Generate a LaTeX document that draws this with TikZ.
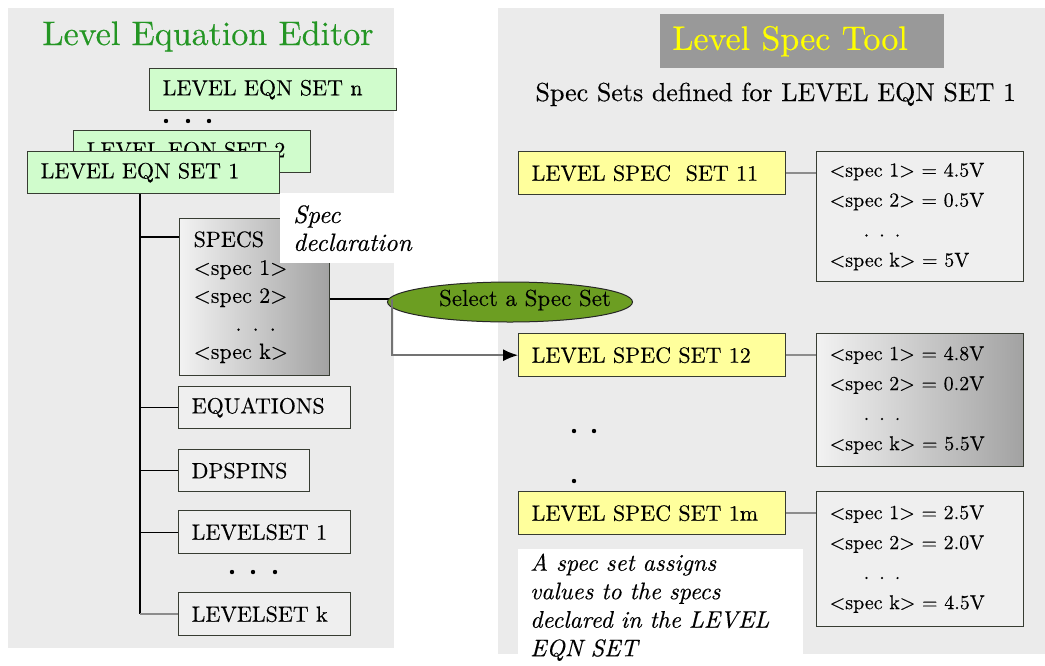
\documentclass[tikz,border=0pt]{standalone}
\usepackage{fontspec}
\setmainfont{lmroman10-regular.otf}[ItalicFont=lmroman10-italic.otf, BoldFont=lmroman10-bold.otf, FakeBold=0.3]
\usetikzlibrary{shapes.geometric,arrows.meta,calc}

\definecolor{panelgray}{RGB}{235,235,235}
\definecolor{eqngreen}{RGB}{208,252,204}
\definecolor{titlegreen}{RGB}{36,150,36}
\definecolor{specyellow}{RGB}{255,255,156}
\definecolor{toolgray}{RGB}{153,153,153}
\definecolor{tooltext}{RGB}{255,255,0}
\definecolor{selgreen}{RGB}{108,158,34}
\definecolor{boxline}{RGB}{55,60,50}
\definecolor{boxfill}{RGB}{239,239,239}
\definecolor{linkgray}{RGB}{140,140,140}
\definecolor{shadelight}{RGB}{242,242,242}
\definecolor{shadedark}{RGB}{162,162,162}

\newcommand\fsz[2]{\fontsize{#1}{#2}\selectfont}

\tikzset{
  basebox/.style={draw=boxline, line width=1.4pt, anchor=north west,
    inner xsep=13pt, inner ysep=0pt, align=left, font=\fsz{22}{26}},
  eqnbox/.style={basebox, fill=eqngreen, minimum height=42pt},
  itembox/.style={basebox, fill=boxfill, minimum height=42pt},
  specbox/.style={basebox, fill=specyellow, minimum height=43pt, text width=241pt},
  valbox/.style={basebox, fill=boxfill, font=\fsz{20}{30}, text width=181pt},
  shadedbox/.style={left color=shadelight, right color=shadedark},
  treeline/.style={draw=black, line width=1.3pt},
  linkline/.style={draw=linkgray, line width=2pt},
  notebox/.style={fill=white, anchor=north west, align=left, inner xsep=12pt, inner ysep=0pt}
}

\begin{document}
\begin{tikzpicture}[x=1pt, y=-1pt]
\useasboundingbox (0,0) rectangle (1045,665);

% two panels
\fill[panelgray] (8,8) rectangle (394,648);
\fill[panelgray] (498,8) rectangle (1045,654);

% ---------------- left panel: equation editor ----------------
\node[anchor=base, font=\fsz{34}{40}, text=titlegreen] (edtitle) at (208,45) {Level Equation Editor};

\node[eqnbox, text width=221pt] (setn) at (149,68) {LEVEL EQN SET n};
\foreach \x in {166,188,209} \fill (\x,121) circle[radius=2.2pt];
\node[eqnbox, text width=211pt] (set2) at (73,130) {LEVEL EQN SET 2};
\node[eqnbox, text width=226pt] (set1) at (27,151) {LEVEL EQN SET 1};

\node[itembox, shadedbox, inner xsep=14pt, text width=122pt, minimum height=157pt, font=\fsz{22}{28}] (specs) at (179,218)
  {SPECS\\<spec 1>\\<spec 2>\\\hspace*{1.9em}. . .\\<spec k>};
\node[itembox, text width=146pt] (eq)  at (178,386) {EQUATIONS};
\node[itembox, text width=105pt] (dps) at (178,449) {DPSPINS};
\node[itembox, text width=146pt, minimum height=43pt] (ls1) at (178,510) {LEVELSET 1};
\foreach \x in {232,253,275} \fill (\x,572) circle[radius=2.2pt];
\node[itembox, text width=146pt, minimum height=43pt] (lsk) at (178,592) {LEVELSET k};

% tree of the equation set
\coordinate (trunk) at ($(set1.south west)+(113,0)$);
\coordinate (specin) at ($(specs.north west)+(0,19)$);
\draw[treeline] (trunk) -- (trunk |- lsk.west);
\draw[treeline] (trunk |- specin) -- (specin);
\draw[treeline] (trunk |- eq.west) -- (eq.west);
\draw[treeline] (trunk |- dps.west) -- (dps.west);
\draw[treeline] (trunk |- ls1.west) -- (ls1.west);
\draw[linkline, line width=1.6pt] (trunk |- lsk.west) -- (lsk.west);

% declaration note over the specs box
\node[notebox, text width=125pt, minimum height=70pt, inner xsep=13pt, font=\fsz{25}{28}\itshape] (specdecl) at (280,193)
  {Spec\\declaration};

% ---------------- right panel: spec tool ----------------
\node[anchor=north west, fill=toolgray, minimum height=54pt, text width=260pt, inner xsep=12pt, inner ysep=0pt,
      align=left, font=\fsz{34}{40}, text=tooltext] (tool) at (660,14) {Level Spec Tool};
\node[anchor=base west, font=\fsz{26}{30}] (subtitle) at (532,101) {Spec Sets defined for LEVEL EQN SET 1};

\node[specbox] (set11) at (518,151) {LEVEL SPEC~ SET 11};
\node[valbox, minimum height=130pt] (val11) at (816,151)
  {<spec 1> = 4.5V\\<spec 2> = 0.5V\\\hspace*{1.7em}. . .\\<spec k> = 5V};

\node[specbox] (set12) at (518,333) {LEVEL SPEC SET 12};
\node[valbox, shadedbox, minimum height=133pt] (val12) at (816,333)
  {<spec 1> = 4.8V\\<spec 2> = 0.2V\\\hspace*{1.7em}. . .\\<spec k> = 5.5V};

\fill (574,431) circle[radius=2.2pt];
\fill (594,431) circle[radius=2.2pt];
\fill (574,481) circle[radius=2.2pt];

\node[specbox] (set1m) at (518,491) {LEVEL SPEC SET 1m};
\node[valbox, minimum height=135pt] (val1m) at (816,491)
  {<spec 1> = 2.5V\\<spec 2> = 2.0V\\\hspace*{1.7em}. . .\\<spec k> = 4.5V};

\draw[linkline] (set11.east) -- (set11.east -| val11.west);
\draw[linkline] (set12.east) -- (set12.east -| val12.west);
\draw[linkline] (set1m.east) -- (set1m.east -| val1m.west);

\node[notebox, text width=261pt, minimum height=116pt, font=\fsz{24}{28.5}\itshape] (note) at (518,549)
  {A spec set assigns\\values to the specs\\declared in the LEVEL\\EQN SET};

% ---------------- selection step ----------------
\coordinate (tap) at (392,299);
\draw[treeline, line width=1.2pt] (specs.east |- tap) -- (tap);
\node[ellipse, draw=black!85, line width=1pt, fill=selgreen, minimum width=245pt, minimum height=40pt, inner sep=0pt] (sel) at (510,302) {};
\node[font=\fsz{23}{26}] (seltext) at (525,300) {Select a Spec Set};
\draw[draw=black!55, line width=1.5pt, -{Latex[length=15pt, width=12pt, color=black]}] (tap) |- (set12.west);

\end{tikzpicture}
\end{document}
